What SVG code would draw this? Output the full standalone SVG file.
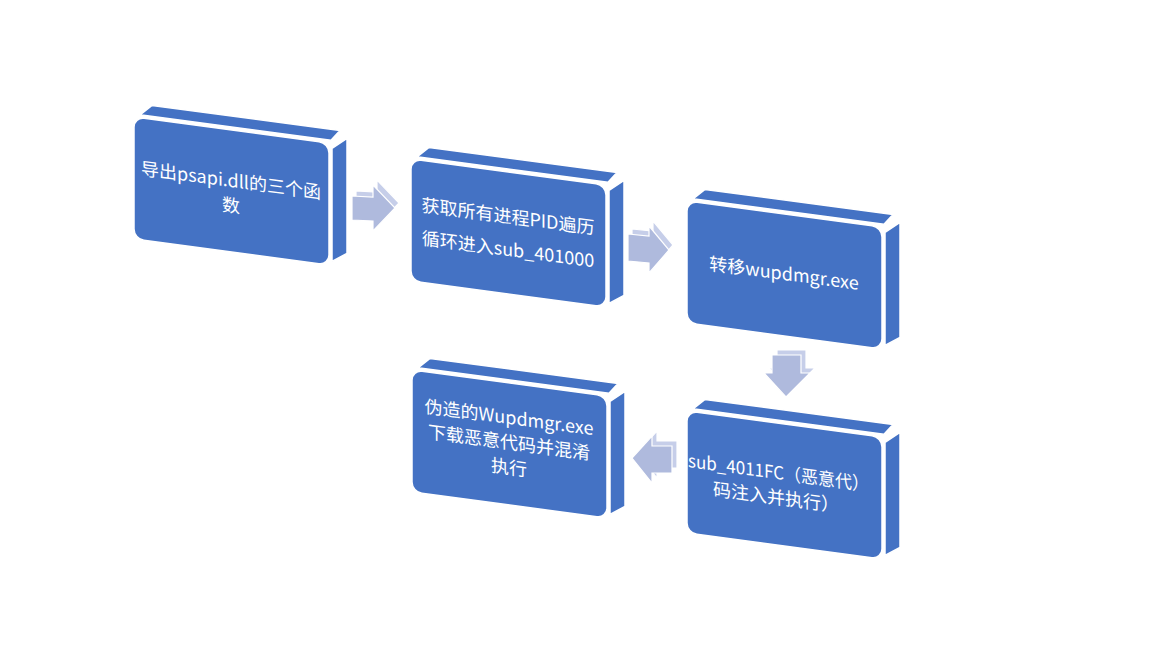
<svg xmlns="http://www.w3.org/2000/svg" width="1152" height="648" viewBox="0 0 1152 648">
<style>
.face{fill:#4472C4;stroke:#FFFFFF;stroke-width:1.5;stroke-linejoin:round}
.lbl{fill:#FFFFFF;font-family:"Noto Sans CJK SC","Noto Sans",sans-serif;font-size:18px;text-anchor:middle}
.arr{fill:#AFBADD;stroke:#FFFFFF;stroke-width:1.2;stroke-linejoin:miter}
.arrb{fill:#C6CEE9;stroke:#FFFFFF;stroke-width:1.2}
</style>
<defs>
<g id="box">
<polygon class="face" points="6,-3 18,-14 206,-14 197,-3"/>
<polygon class="face" points="198,5 213,-7 213,108 198,118"/>
<rect class="face" x="0" y="0" width="195" height="122" rx="10"/>
</g>
</defs>
<rect width="1152" height="648" fill="#FFFFFF"/>
<g id="connectors">
<g id="arrow1">
<polygon class="arrb" points="356,191 377,192 377,180 399,203 377,226 377,216 356,215"/>
<polygon class="arr" points="352,196 373,197 373,185 395,208 373,231 373,221 352,220"/>
</g>
<g id="arrow2">
<polygon class="arrb" points="632,229 653,231 653,221 673,245 653,268 653,258 632,256"/>
<polygon class="arr" points="628,234 649,236 649,226 669,250 649,273 649,263 628,261"/>
</g>
<g id="arrow3">
<polygon class="arrb" points="777,350 806,350 806,368 815,368 791,392 769,368 777,368"/>
<polygon class="arr" points="772,355 801,355 801,373 810,373 786,397 764,373 772,373"/>
</g>
<g id="arrow4">
<polygon class="arrb" points="637,453 657,431 657,441 677,441 677,468 657,468 657,478"/>
<polygon class="arr" points="632,458 652,436 652,446 672,446 672,473 652,473 652,483"/>
</g>
</g>
<g id="node1" transform="translate(134,117) skewY(7.6)">
<use href="#box"/>
<text class="lbl" x="97" y="57">导出psapi.dll的三个函</text>
<text class="lbl" x="97" y="82">数</text>
</g>
<g id="node2" transform="translate(411,159) skewY(7.6)">
<use href="#box"/>
<text class="lbl" x="97" y="51">获取所有进程PID遍历</text>
<text class="lbl" x="97" y="84">循环进入sub_401000</text>
</g>
<g id="node3" transform="translate(687,201) skewY(7.6)">
<use href="#box"/>
<text class="lbl" x="97" y="66">转移wupdmgr.exe</text>
</g>
<g id="node4" transform="translate(687,411) skewY(7.6)">
<use href="#box"/>
<text class="lbl" x="1" y="56" style="text-anchor:start" textLength="181" lengthAdjust="spacingAndGlyphs">sub_4011FC（恶意代）</text>
<text class="lbl" x="89" y="81">码注入并执行）</text>
</g>
<g id="node5" transform="translate(412,370) skewY(7.6)">
<use href="#box"/>
<text class="lbl" x="97" y="41">伪造的Wupdmgr.exe</text>
<text class="lbl" x="97" y="66">下载恶意代码并混淆</text>
<text class="lbl" x="97" y="91">执行</text>
</g>
</svg>
